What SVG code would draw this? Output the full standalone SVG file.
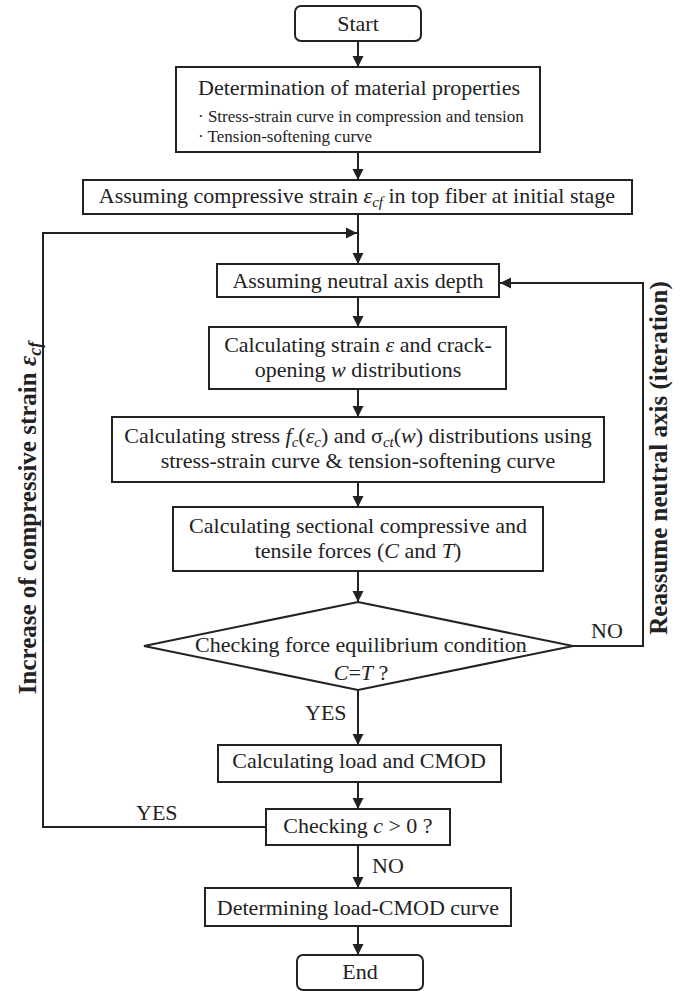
<svg xmlns="http://www.w3.org/2000/svg" width="681" height="991" viewBox="0 0 681 991">
<style>
.b{fill:#fff;stroke:#222;stroke-width:2}
.t{font-family:"Liberation Serif","Times New Roman",serif;font-size:22px;fill:#222}
.s{font-family:"Liberation Serif","Times New Roman",serif;font-size:17px;fill:#222}
.lb{font-family:"Liberation Serif","Times New Roman",serif;font-size:25px;font-weight:bold;fill:#222}
.c{text-anchor:middle}
.i{font-style:italic}
.sub{font-size:15px;font-style:italic}
.ln{fill:none;stroke:#222;stroke-width:2}
</style>
<defs>
<marker id="ah" markerUnits="userSpaceOnUse" markerWidth="12" markerHeight="12" refX="11" refY="6" orient="auto">
<path d="M0,0.5 L11,6 L0,11.5 z" fill="#222"/>
</marker>
</defs>
<rect width="681" height="991" fill="#fff"/>
<g id="connectors">
<line class="ln" x1="358" y1="41" x2="358" y2="67" marker-end="url(#ah)"/>
<line class="ln" x1="358" y1="152" x2="358" y2="180" marker-end="url(#ah)"/>
<line class="ln" x1="358" y1="214" x2="358" y2="264" marker-end="url(#ah)"/>
<line class="ln" x1="358" y1="297" x2="358" y2="327" marker-end="url(#ah)"/>
<line class="ln" x1="358" y1="389" x2="358" y2="417" marker-end="url(#ah)"/>
<line class="ln" x1="358" y1="482" x2="358" y2="507" marker-end="url(#ah)"/>
<line class="ln" x1="358" y1="571" x2="358" y2="602" marker-end="url(#ah)"/>
<line class="ln" x1="358" y1="690" x2="358" y2="745" marker-end="url(#ah)"/>
<line class="ln" x1="358" y1="782" x2="358" y2="809" marker-end="url(#ah)"/>
<line class="ln" x1="358" y1="845" x2="358" y2="888" marker-end="url(#ah)"/>
<line class="ln" x1="358" y1="926" x2="358" y2="955" marker-end="url(#ah)"/>
<polyline class="ln" points="266,827 43,827 43,233 357,233" marker-end="url(#ah)"/>
<polyline class="ln" points="573,646 643,646 643,283 500,283" marker-end="url(#ah)"/>
<text class="t" x="305" y="720">YES</text>
<text class="t" x="136" y="820">YES</text>
<text class="t" x="372" y="873">NO</text>
<text class="t" x="591" y="638">NO</text>
<text class="lb c" transform="translate(36,518) rotate(-90)">Increase of compressive strain <tspan class="i">ε</tspan><tspan font-size="18" font-style="italic" dy="5">cf</tspan></text>
<text class="lb c" transform="translate(667,458) rotate(-90)">Reassume neutral axis (iteration)</text>
</g>
<g id="start">
<rect class="b" x="295" y="6" width="126" height="35" rx="6"/>
<text class="t c" x="358" y="31">Start</text>
</g>
<g id="material">
<rect class="b" x="176" y="67" width="364" height="85"/>
<text class="t c" x="359" y="95">Determination of material properties</text>
<text class="s" x="198" y="122">· Stress-strain curve in compression and tension</text>
<text class="s" x="198" y="142">· Tension-softening curve</text>
</g>
<g id="assume-strain">
<rect class="b" x="83" y="180" width="549" height="34"/>
<text class="t c" x="357" y="203">Assuming compressive strain <tspan class="i">ε</tspan><tspan class="sub" dy="4">cf</tspan><tspan dy="-4"> in top fiber at initial stage</tspan></text>
</g>
<g id="neutral">
<rect class="b" x="217" y="264" width="282" height="33"/>
<text class="t c" x="358" y="288">Assuming neutral axis depth</text>
</g>
<g id="strain">
<rect class="b" x="209" y="327" width="297" height="62"/>
<text class="t c" x="358" y="352">Calculating strain <tspan class="i">ε</tspan> and crack-</text>
<text class="t c" x="358" y="377">opening <tspan class="i">w</tspan> distributions</text>
</g>
<g id="stress">
<rect class="b" x="112" y="417" width="492" height="65"/>
<text class="t c" x="358" y="443">Calculating stress <tspan class="i">f</tspan><tspan class="sub" dy="4">c</tspan><tspan dy="-4">(</tspan><tspan class="i">ε</tspan><tspan class="sub" dy="4">c</tspan><tspan dy="-4">) and σ</tspan><tspan class="sub" dy="4">ct</tspan><tspan dy="-4">(</tspan><tspan class="i">w</tspan>) distributions using</text>
<text class="t c" x="358" y="468">stress-strain curve &amp; tension-softening curve</text>
</g>
<g id="forces">
<rect class="b" x="173" y="507" width="370" height="64"/>
<text class="t c" x="358" y="533">Calculating sectional compressive and</text>
<text class="t c" x="358" y="558">tensile forces (<tspan class="i">C</tspan> and <tspan class="i">T</tspan>)</text>
</g>
<g id="equilibrium">
<polygon class="b" points="358,602 573,646 358,690 144,646"/>
<text class="t c" x="361" y="652">Checking force equilibrium condition</text>
<text class="t c" x="361" y="680"><tspan class="i">C</tspan>=<tspan class="i">T</tspan> ?</text>
</g>
<g id="load">
<rect class="b" x="218" y="745" width="283" height="37"/>
<text class="t c" x="359" y="768">Calculating load and CMOD</text>
</g>
<g id="check-c">
<rect class="b" x="266" y="809" width="184" height="36"/>
<text class="t c" x="358" y="833">Checking <tspan class="i">c</tspan> &gt; 0 ?</text>
</g>
<g id="determine">
<rect class="b" x="205" y="888" width="306" height="38"/>
<text class="t c" x="358" y="915">Determining load-CMOD curve</text>
</g>
<g id="end">
<rect class="b" x="297" y="955" width="126" height="35" rx="6"/>
<text class="t c" x="360" y="979">End</text>
</g>
</svg>
